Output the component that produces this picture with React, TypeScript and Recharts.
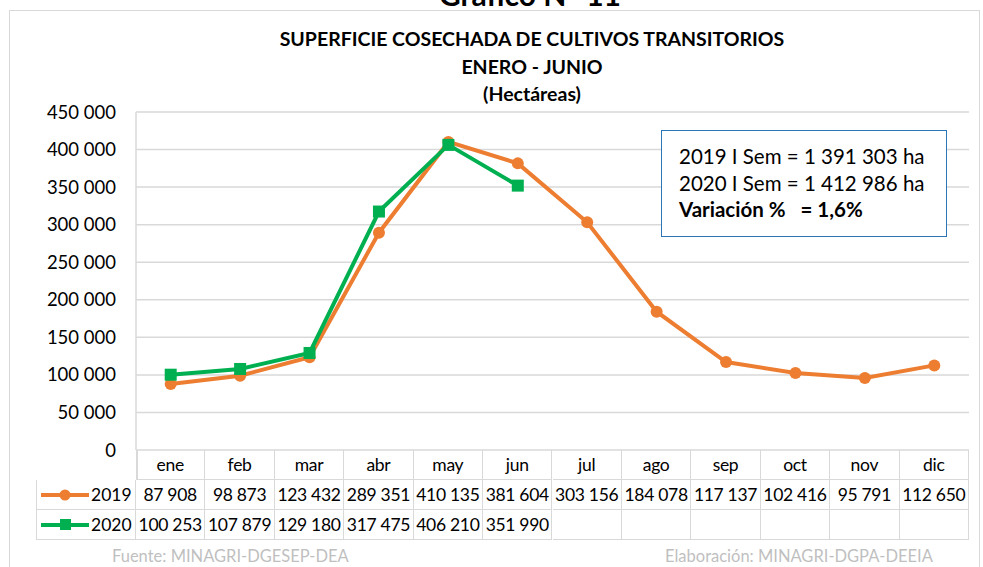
import React from "react";
import { LineChart, Line, XAxis, YAxis, CartesianGrid } from "recharts";

const months = ["ene", "feb", "mar", "abr", "may", "jun", "jul", "ago", "sep", "oct", "nov", "dic"];
const values2019 = [87908, 98873, 123432, 289351, 410135, 381604, 303156, 184078, 117137, 102416, 95791, 112650];
const values2020: (number | null)[] = [100253, 107879, 129180, 317475, 406210, 351990, null, null, null, null, null, null];
const yTicks = [0, 50000, 100000, 150000, 200000, 250000, 300000, 350000, 400000, 450000];

const ORANGE = "#ED7D31";
const GREEN = "#00B050";
const GRID = "#d9d9d9";
const FONT = "Lato, 'Open Sans', sans-serif";

const fmt = (v: number | null) =>
  v == null ? "" : String(v).replace(/\B(?=(\d{3})+(?!\d))/g, " ");

const data = months.map((m, i) => ({ month: m, y2019: values2019[i], y2020: values2020[i] }));

// plot frame
const PLOT_LEFT = 136;
const PLOT_RIGHT = 969;
const PLOT_TOP = 112;
const PLOT_BOTTOM = 450;
const COL_W = (PLOT_RIGHT - PLOT_LEFT) / months.length;

function Square(props: any) {
  const { cx, cy } = props;
  if (cx == null || cy == null || props.value == null) return null;
  return <rect x={cx - 6} y={cy - 6} width={12} height={12} fill={GREEN} />;
}

function LegendKey({ color, square }: { color: string; square?: boolean }) {
  return (
    <svg width={50} height={12} style={{ display: "block" }}>
      <line x1={1} y1={6} x2={49} y2={6} stroke={color} strokeWidth={4} />
      {square ? (
        <rect x={20} y={0} width={11} height={11} fill={color} />
      ) : (
        <circle cx={25} cy={6} r={5.5} fill={color} />
      )}
    </svg>
  );
}

export default function App() {
  const cell = (i: number, top: number, h: number, text: string, key: string) => (
    <div
      key={key}
      style={{
        position: "absolute",
        left: PLOT_LEFT + i * COL_W,
        top,
        width: COL_W,
        height: h,
        borderRight: `1.5px solid ${GRID}`,
        borderBottom: `1.5px solid ${GRID}`,
        boxSizing: "border-box",
        display: "flex",
        alignItems: "center",
        justifyContent: "center",
        fontSize: 17.5,
        letterSpacing: -0.3,
        whiteSpace: "nowrap",
        color: "#000",
      }}
    >
      {text}
    </div>
  );

  const rowLabel = (top: number, label: string, color: string, square?: boolean) => (
    <div
      style={{
        position: "absolute",
        left: 36,
        top,
        width: PLOT_LEFT - 36,
        height: 30,
        borderLeft: `1.5px solid ${GRID}`,
        borderRight: `1.5px solid ${GRID}`,
        borderBottom: `1.5px solid ${GRID}`,
        boxSizing: "border-box",
        display: "flex",
        alignItems: "center",
        fontSize: 17.5,
        paddingLeft: 3,
        gap: 1,
      }}
    >
      <LegendKey color={color} square={square} />
      <span>{label}</span>
    </div>
  );

  return (
    <div
      style={{
        position: "absolute",
        left: 0,
        top: 0,
        width: 983,
        height: 567,
        background: "#fff",
        overflow: "hidden",
        fontFamily: FONT,
        color: "#000",
      }}
    >
      <div
        style={{
          position: "absolute",
          left: 0,
          width: 1060,
          top: -24,
          textAlign: "center",
          fontWeight: 700,
          fontSize: 30,
        }}
      >
        Gráfico N° 11
      </div>
      <div
        style={{
          position: "absolute",
          left: 9,
          top: 10,
          width: 971,
          height: 600,
          border: `1.5px solid ${GRID}`,
          boxSizing: "border-box",
        }}
      />
      <div
        style={{
          position: "absolute",
          left: 0,
          width: 1064,
          top: 25,
          textAlign: "center",
          fontWeight: 700,
          fontSize: 19.5,
          lineHeight: "27.5px",
        }}
      >
        <div>SUPERFICIE COSECHADA DE CULTIVOS TRANSITORIOS</div>
        <div>ENERO - JUNIO</div>
        <div>(Hectáreas)</div>
      </div>

      <div style={{ position: "absolute", left: 0, top: 0 }}>
        <LineChart
          width={983}
          height={567}
          data={data}
          margin={{ top: PLOT_TOP, bottom: 567 - PLOT_BOTTOM, left: PLOT_LEFT - 100, right: 983 - PLOT_RIGHT }}
        >
          <CartesianGrid vertical={false} stroke={GRID} strokeWidth={1.5} />
          <XAxis
            dataKey="month"
            hide
            padding={{ left: COL_W / 2, right: COL_W / 2 }}
          />
          <YAxis
            width={100}
            domain={[0, 450000]}
            ticks={yTicks}
            interval={0}
            tickFormatter={(v: number) => fmt(v)}
            tick={{ fill: "#000", fontSize: 18.5, fontFamily: FONT }}
            tickLine={false}
            tickSize={0}
            tickMargin={20}
            axisLine={{ stroke: GRID, strokeWidth: 1.5 }}
          />
          <Line
            dataKey="y2019"
            stroke={ORANGE}
            strokeWidth={4}
            dot={{ r: 6, fill: ORANGE, stroke: ORANGE, strokeWidth: 0 }}
            isAnimationActive={false}
          />
          <Line
            dataKey="y2020"
            stroke={GREEN}
            strokeWidth={4}
            dot={<Square />}
            connectNulls={false}
            isAnimationActive={false}
          />
        </LineChart>
      </div>

      <div
        style={{
          position: "absolute",
          left: 661,
          top: 130,
          width: 286,
          height: 107,
          border: "1.5px solid #2E75B6",
          background: "#fff",
          boxSizing: "border-box",
          padding: "12px 0 0 17px",
          fontSize: 20.5,
          lineHeight: "26.5px",
          whiteSpace: "nowrap",
        }}
      >
        <div>2019 I Sem = 1 391 303 ha</div>
        <div>2020 I Sem = 1 412 986 ha</div>
        <div style={{ fontWeight: 700, whiteSpace: "pre" }}>Variación %   = 1,6%</div>
      </div>

      {/* data table */}
      <div
        style={{
          position: "absolute",
          left: PLOT_LEFT,
          top: PLOT_BOTTOM,
          width: 1.5,
          height: 30,
          background: GRID,
        }}
      />
      {months.map((m, i) => cell(i, PLOT_BOTTOM, 30, m, "h" + i))}
      {rowLabel(480, "2019", ORANGE)}
      {values2019.map((v, i) => cell(i, 480, 30, fmt(v), "a" + i))}
      {rowLabel(510, "2020", GREEN, true)}
      {values2020.map((v, i) => cell(i, 510, 30, fmt(v), "b" + i))}

      <div style={{ position: "absolute", left: 112, top: 546, fontSize: 16.5, color: "#bfbfbf" }}>
        Fuente: MINAGRI-DGESEP-DEA
      </div>
      <div style={{ position: "absolute", left: 665, top: 546, fontSize: 16.5, color: "#bfbfbf" }}>
        Elaboración: MINAGRI-DGPA-DEEIA
      </div>
    </div>
  );
}
